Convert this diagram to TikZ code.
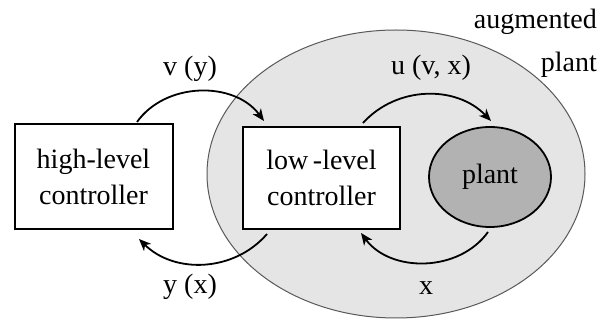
\documentclass[tikz,border=0pt]{standalone}
\usepackage{fontspec}
\setmainfont{Liberation Serif}
\newfontfamily\tnr{Liberation Serif}
\usetikzlibrary{shapes.geometric,arrows.meta}
\definecolor{augfill}{gray}{0.90}
\definecolor{plantfill}{gray}{0.70}
\definecolor{augline}{gray}{0.35}
\tikzset{
  box/.style={draw=black, line width=2pt, fill=white, align=center, inner sep=0pt},
  lbl/.style={anchor=base, inner sep=0pt},
  arr/.style={line width=1.8pt, -{Stealth[length=12pt,width=10pt,inset=3.5pt]}},
}
\begin{document}
\begin{tikzpicture}[x=1pt,y=-1pt,font=\tnr\fontsize{28}{36}\selectfont]
\useasboundingbox (0,0) rectangle (603,320);
\fill[white] (0,0) rectangle (603,320);
% augmented plant region
\node[ellipse, draw=augline, line width=1pt, fill=augfill, minimum width=378pt, minimum height=288pt, inner sep=0pt] (aug) at (396,174) {};
\node[anchor=base east, align=right, inner sep=0pt, font=\tnr\fontsize{28}{43}\selectfont] (augl) at (597,72) {augmented\\plant};
% blocks
\node[box, minimum width=158pt, minimum height=105pt] (hi) at (93.5,177) {high-level\\controller};
\node[box, minimum width=157pt, minimum height=102pt] (lo) at (321.5,178) {low\,-level\\controller};
\node[ellipse, draw=black, line width=1.8pt, fill=plantfill, minimum width=122pt, minimum height=100pt, inner sep=0pt] (plant) at (490,177) {plant};
% anchor points for connectors
\coordinate (a1) at (137,122);
\coordinate (a2) at (264,121);
\coordinate (b1) at (267,234);
\coordinate (b2) at (139,239);
\coordinate (c1) at (363,123);
\coordinate (c2) at (491,121);
\coordinate (d1) at (488,232);
\coordinate (d2) at (361,233);
% connectors
\draw[arr] (a1) to[bend left=54] (a2);
\draw[arr] (b1) to[bend left=47] (b2);
\draw[arr] (c1) to[bend left=47] (c2);
\draw[arr] (d1) to[bend left=54] (d2);
% labels
\node[lbl] (lv) at (190,76) {v (y)};
\node[lbl] (ly) at (190,294) {y (x)};
\node[lbl] (lu) at (431,75) {u (v, x)};
\node[lbl] (lx) at (426,295) {x};
\end{tikzpicture}
\end{document}
